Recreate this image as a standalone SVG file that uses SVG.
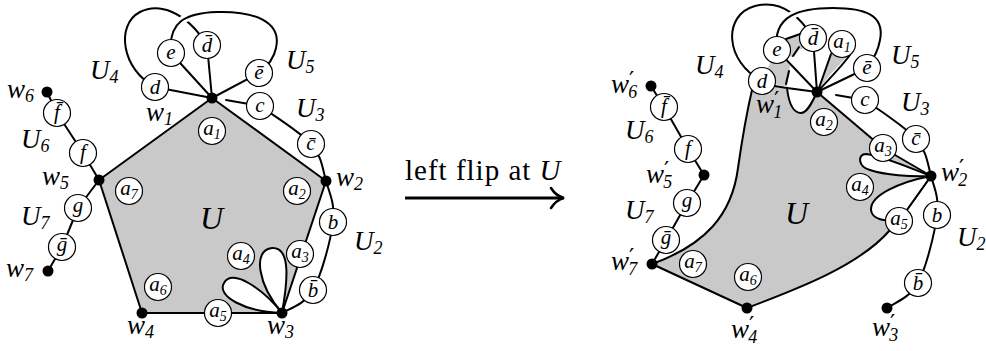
<svg xmlns="http://www.w3.org/2000/svg" width="986" height="351" viewBox="0 0 986 351">
<style>
.e{fill:none;stroke:#000;stroke-width:2;stroke-linejoin:round;stroke-linecap:round}
.halo{fill:none;stroke:#fff;stroke-width:8}
.face{fill:#c9c9c9;stroke:#000;stroke-width:2;stroke-linejoin:round}
.grey{fill:#c9c9c9;stroke:none}
.petal{fill:#fff;stroke:#000;stroke-width:2}
.n circle{fill:#fff;stroke:#000;stroke-width:1.2}
.n text{font-family:"Liberation Serif","DejaVu Serif",serif;font-style:italic;font-size:21px;text-anchor:middle}
.s{font-size:14px}
.dot{fill:#000}
.lab{font-family:"Liberation Serif","DejaVu Serif",serif;font-style:italic;font-size:27px}
.sb{font-size:18px}
.pr{font-family:"DejaVu Sans",sans-serif;font-style:normal;font-size:23px}
.big{font-family:"Liberation Serif","DejaVu Serif",serif;font-style:italic;font-size:32px}
.arr{font-family:"Liberation Serif","DejaVu Serif",serif;font-size:29px;letter-spacing:1px}
</style>

<!-- faces -->
<g id="faces">
  <path class="face" d="M212,98 L326,181 L282,313 L142,313 L99,180 Z"/>
  <path class="face" d="M652,264 L747,308 C800,288 860,265 890,230 L899,221 L931,176 L883,148 L817,92 C812,103 807,113 801,113 C794,113 789,105 787,88 L762,84 L752,90 C745,120 742,140 738,168 C732,215 705,245 652,264 Z"/>
  <polygon class="grey" points="762,81 776,50 790,66 787,87"/>
  <polygon class="grey" points="784,40 803,33 806,47 799,50 794,57 786,56"/>
  <path class="grey" d="M820,88 L830,54 L850,54 C840,64 828,76 820,88 Z"/>
</g>

<!-- connectors -->
<g id="connectors">
  <!-- left figure -->
  <path class="petal" d="M282,313 C258,285 252,250 272,248 C292,247 287,285 282,313 Z"/>
  <path class="petal" d="M282,313 C262,288 232,268 224,283 C216,296 245,312 282,313 Z"/>
  <polyline class="e" points="47,92 57,113 83,153 99,180 78,208 62,247 48,271"/>
  <path class="e" d="M260,106 C268.5,112.3 300,131.5 311,144 C322,156.5 322.3,168 326,181 C329.7,194 335.2,203.8 333,222 C330.8,240.2 321.5,274.8 313,290 C304.5,305.2 287.2,309.2 282,313"/>
  <path class="e" d="M212,98 L155,87 M212,98 L171,53 M212,98 L207,45 M212,98 L259,73 M226,100 L260,106"/>
  <path class="e" d="M155,87 C122,70 115,25 140,12 C158,3 185,10 207,45"/>
  <path class="halo" d="M171,53 C168,22 185,13 217,12 C255,11 282,22 276,48 C274,58 268,66 259,73"/>
  <path class="e" d="M171,53 C168,22 185,13 217,12 C255,11 282,22 276,48 C274,58 268,66 259,73"/>

  <!-- right figure -->
  <path class="petal" d="M931,176 C910,168 880,155 866,154 C857,154 858,167 870,170 C885,175 910,177 931,176 Z"/>
  <path class="petal" d="M931,176 C900,182 870,195 871,210 C872,220 885,221 899,221 L931,176 Z"/>
  <polyline class="e" points="651,86 664,107 688,149 704,175 687,203 666,240 652,264"/>
  <path class="e" d="M865,100 C873.5,106.5 905,126.3 916,139 C927,151.7 927.5,163.3 931,176 C934.5,188.7 939.2,197.2 937,215 C934.8,232.8 926.3,267.5 918,283 C909.7,298.5 892.2,303.8 887,308"/>
  <path class="e" d="M787,88 L817,92 M817,92 L777,50 M817,92 L813,38 M817,92 L867,68 M836,95 L865,100"/>
  <path class="e" d="M786,39 L803,33 M793,56 L799,47 M786,84 L789,71"/>
  <path class="e" d="M819,88 L831,54 M820,89 C830,78 842,66 850,55"/>
  <path class="e" d="M762,81 C725,62 722,15 755,6 C775,1 795,8 813,38"/>
  <path class="halo" d="M777,50 C772,15 800,8 833,8 C865,8 885,15 880,40 C878,52 873,60 867,68"/>
  <path class="e" d="M777,50 C772,15 800,8 833,8 C865,8 885,15 880,40 C878,52 873,60 867,68"/>
</g>

<!-- left circle nodes -->
<g id="L-a1" class="n"><circle cx="212" cy="131" r="13.5"/><text x="212" y="135">a<tspan class="s" dy="4">1</tspan></text></g>
<g id="L-a2" class="n"><circle cx="297" cy="191" r="13.5"/><text x="297" y="195">a<tspan class="s" dy="4">2</tspan></text></g>
<g id="L-a3" class="n"><circle cx="300" cy="254" r="13.5"/><text x="300" y="258">a<tspan class="s" dy="4">3</tspan></text></g>
<g id="L-a4" class="n"><circle cx="241" cy="256" r="13.5"/><text x="241" y="260">a<tspan class="s" dy="4">4</tspan></text></g>
<g id="L-a5" class="n"><circle cx="218" cy="313" r="13.5"/><text x="218" y="317">a<tspan class="s" dy="4">5</tspan></text></g>
<g id="L-a6" class="n"><circle cx="158" cy="287" r="13.5"/><text x="158" y="291">a<tspan class="s" dy="4">6</tspan></text></g>
<g id="L-a7" class="n"><circle cx="129" cy="191" r="13.5"/><text x="129" y="195">a<tspan class="s" dy="4">7</tspan></text></g>
<g id="L-b" class="n"><circle cx="333" cy="222" r="13.5"/><text x="333" y="229">b</text></g>
<g id="L-bbar" class="n"><circle cx="313" cy="290" r="13.5"/><text x="313" y="297">b&#x304;</text></g>
<g id="L-cbar" class="n"><circle cx="311" cy="144" r="13.5"/><text x="311" y="150">c&#x304;</text></g>
<g id="L-c" class="n"><circle cx="260" cy="106" r="13.5"/><text x="260" y="112">c</text></g>
<g id="L-ebar" class="n"><circle cx="259" cy="73" r="13.5"/><text x="259" y="79">&#x113;</text></g>
<g id="L-dbar" class="n"><circle cx="207" cy="45" r="13.5"/><text x="207" y="52">d&#x304;</text></g>
<g id="L-e" class="n"><circle cx="171" cy="53" r="13.5"/><text x="171" y="59">e</text></g>
<g id="L-d" class="n"><circle cx="155" cy="87" r="13.5"/><text x="155" y="94">d</text></g>
<g id="L-f" class="n"><circle cx="83" cy="153" r="13.5"/><text x="83" y="159">f</text></g>
<g id="L-fbar" class="n"><circle cx="57" cy="113" r="13.5"/><text x="57" y="119">f&#x304;</text></g>
<g id="L-g" class="n"><circle cx="78" cy="208" r="13.5"/><text x="78" y="212">g</text></g>
<g id="L-gbar" class="n"><circle cx="62" cy="247" r="13.5"/><text x="62" y="251">&#x1E21;</text></g>

<!-- right circle nodes -->
<g id="R-a1" class="n"><circle cx="842" cy="44" r="13.5"/><text x="842" y="48">a<tspan class="s" dy="4">1</tspan></text></g>
<g id="R-a2" class="n"><circle cx="824" cy="122" r="13.5"/><text x="824" y="126">a<tspan class="s" dy="4">2</tspan></text></g>
<g id="R-a3" class="n"><circle cx="883" cy="148" r="13.5"/><text x="883" y="152">a<tspan class="s" dy="4">3</tspan></text></g>
<g id="R-a4" class="n"><circle cx="860" cy="187" r="13.5"/><text x="860" y="191">a<tspan class="s" dy="4">4</tspan></text></g>
<g id="R-a5" class="n"><circle cx="899" cy="221" r="13.5"/><text x="899" y="225">a<tspan class="s" dy="4">5</tspan></text></g>
<g id="R-a6" class="n"><circle cx="748" cy="277" r="13.5"/><text x="748" y="281">a<tspan class="s" dy="4">6</tspan></text></g>
<g id="R-a7" class="n"><circle cx="693" cy="264" r="13.5"/><text x="693" y="268">a<tspan class="s" dy="4">7</tspan></text></g>
<g id="R-b" class="n"><circle cx="937" cy="215" r="13.5"/><text x="937" y="222">b</text></g>
<g id="R-bbar" class="n"><circle cx="918" cy="283" r="13.5"/><text x="918" y="290">b&#x304;</text></g>
<g id="R-cbar" class="n"><circle cx="916" cy="139" r="13.5"/><text x="916" y="145">c&#x304;</text></g>
<g id="R-c" class="n"><circle cx="865" cy="100" r="13.5"/><text x="865" y="106">c</text></g>
<g id="R-ebar" class="n"><circle cx="867" cy="68" r="13.5"/><text x="867" y="74">&#x113;</text></g>
<g id="R-dbar" class="n"><circle cx="813" cy="38" r="13.5"/><text x="813" y="45">d&#x304;</text></g>
<g id="R-e" class="n"><circle cx="777" cy="50" r="13.5"/><text x="777" y="56">e</text></g>
<g id="R-d" class="n"><circle cx="762" cy="81" r="13.5"/><text x="762" y="88">d</text></g>
<g id="R-f" class="n"><circle cx="688" cy="149" r="13.5"/><text x="688" y="155">f</text></g>
<g id="R-fbar" class="n"><circle cx="664" cy="107" r="13.5"/><text x="664" y="113">f&#x304;</text></g>
<g id="R-g" class="n"><circle cx="687" cy="203" r="13.5"/><text x="687" y="207">g</text></g>
<g id="R-gbar" class="n"><circle cx="666" cy="240" r="13.5"/><text x="666" y="244">&#x1E21;</text></g>

<!-- vertices -->
<g id="L-w1"><circle class="dot" cx="212" cy="98" r="5.5"/><text class="lab" x="146" y="121">w<tspan class="sb" dy="4">1</tspan></text></g>
<g id="L-w2"><circle class="dot" cx="326" cy="181" r="5.5"/><text class="lab" x="336" y="186">w<tspan class="sb" dy="4">2</tspan></text></g>
<g id="L-w3"><circle class="dot" cx="282" cy="313" r="5.5"/><text class="lab" x="267" y="334">w<tspan class="sb" dy="4">3</tspan></text></g>
<g id="L-w4"><circle class="dot" cx="142" cy="313" r="5.5"/><text class="lab" x="127" y="334">w<tspan class="sb" dy="4">4</tspan></text></g>
<g id="L-w5"><circle class="dot" cx="99" cy="180" r="5.5"/><text class="lab" x="42" y="185">w<tspan class="sb" dy="4">5</tspan></text></g>
<g id="L-w6"><circle class="dot" cx="47" cy="92" r="5.5"/><text class="lab" x="7" y="98">w<tspan class="sb" dy="4">6</tspan></text></g>
<g id="L-w7"><circle class="dot" cx="48" cy="271" r="5.5"/><text class="lab" x="6" y="277">w<tspan class="sb" dy="4">7</tspan></text></g>

<g id="R-w1"><circle class="dot" cx="817" cy="92" r="5.5"/><text class="lab" x="756" y="113">w<tspan class="pr" dy="-5">′</tspan><tspan class="sb" dx="-6" dy="10">1</tspan></text></g>
<g id="R-w2"><circle class="dot" cx="931" cy="176" r="5.5"/><text class="lab" x="941" y="181">w<tspan class="pr" dy="-5">′</tspan><tspan class="sb" dx="-6" dy="10">2</tspan></text></g>
<g id="R-w3"><circle class="dot" cx="887" cy="308" r="5.5"/><text class="lab" x="872" y="336">w<tspan class="pr" dy="-5">′</tspan><tspan class="sb" dx="-6" dy="10">3</tspan></text></g>
<g id="R-w4"><circle class="dot" cx="747" cy="308" r="5.5"/><text class="lab" x="731" y="338">w<tspan class="pr" dy="-5">′</tspan><tspan class="sb" dx="-6" dy="10">4</tspan></text></g>
<g id="R-w5"><circle class="dot" cx="704" cy="175" r="5.5"/><text class="lab" x="646" y="183">w<tspan class="pr" dy="-5">′</tspan><tspan class="sb" dx="-6" dy="10">5</tspan></text></g>
<g id="R-w6"><circle class="dot" cx="651" cy="86" r="5.5"/><text class="lab" x="611" y="93">w<tspan class="pr" dy="-5">′</tspan><tspan class="sb" dx="-6" dy="10">6</tspan></text></g>
<g id="R-w7"><circle class="dot" cx="652" cy="264" r="5.5"/><text class="lab" x="611" y="270">w<tspan class="pr" dy="-5">′</tspan><tspan class="sb" dx="-6" dy="10">7</tspan></text></g>

<!-- region labels -->
<g id="labels">
  <text class="lab" x="90" y="79">U<tspan class="sb" dy="4">4</tspan></text>
  <text class="lab" x="286" y="69">U<tspan class="sb" dy="4">5</tspan></text>
  <text class="lab" x="296" y="117">U<tspan class="sb" dy="4">3</tspan></text>
  <text class="lab" x="354" y="250">U<tspan class="sb" dy="4">2</tspan></text>
  <text class="lab" x="21" y="148">U<tspan class="sb" dy="4">6</tspan></text>
  <text class="lab" x="21" y="225">U<tspan class="sb" dy="4">7</tspan></text>
  <text class="big" x="200" y="229">U</text>

  <text class="lab" x="695" y="74">U<tspan class="sb" dy="4">4</tspan></text>
  <text class="lab" x="891" y="64">U<tspan class="sb" dy="4">5</tspan></text>
  <text class="lab" x="901" y="111">U<tspan class="sb" dy="4">3</tspan></text>
  <text class="lab" x="957" y="246">U<tspan class="sb" dy="4">2</tspan></text>
  <text class="lab" x="625" y="139">U<tspan class="sb" dy="4">6</tspan></text>
  <text class="lab" x="625" y="219">U<tspan class="sb" dy="4">7</tspan></text>
  <text class="big" x="785" y="224">U</text>
</g>

<!-- transition arrow -->
<g id="arrow">
  <text class="arr" x="405" y="180">left flip at <tspan font-style="italic">U</tspan></text>
  <path d="M405,198 L561,198" fill="none" stroke="#000" stroke-width="3"/>
  <path d="M551,188 Q556,196 564,198 Q556,200 551,208" fill="none" stroke="#000" stroke-width="2.6" stroke-linecap="round"/>
</g>
</svg>
